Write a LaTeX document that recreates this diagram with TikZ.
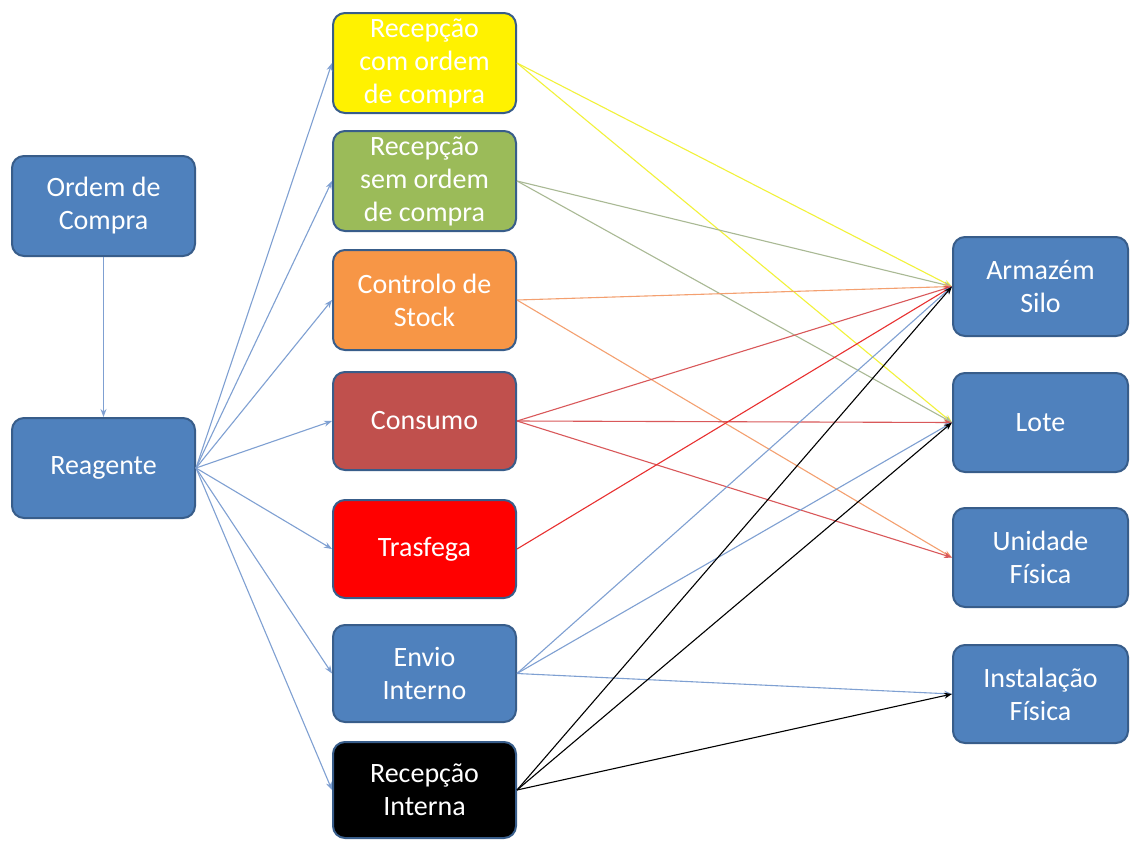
\documentclass[tikz,border=0pt]{standalone}
\usepackage{fontspec}
\setmainfont{Carlito}
\usetikzlibrary{arrows.meta}
\definecolor{boxblue}{HTML}{4F81BD}
\definecolor{boxedge}{HTML}{385D8A}
\definecolor{olive}{HTML}{9BBB59}
\definecolor{orangebox}{HTML}{F79646}
\definecolor{brick}{HTML}{C0504D}
\definecolor{lineblue}{HTML}{7FA0D2}
\definecolor{lineyellow}{HTML}{F2F23A}
\definecolor{linegreen}{HTML}{A9B994}
\definecolor{lineorange}{HTML}{F4A070}
\definecolor{linebrick}{HTML}{D9585A}
\definecolor{linered}{HTML}{E83030}
\tikzset{
  box/.style={draw=boxedge, line width=2pt, rounded corners=12pt, fill=boxblue,
    text=white, align=center, inner sep=0pt, minimum width=183pt,
    minimum height=100pt, font=\fontsize{28}{33}\selectfont},
  rbox/.style={box, minimum width=175pt},
  link/.style={line width=1.1pt, -{Stealth[length=8pt,width=6pt]}},
}
\begin{document}
\begin{tikzpicture}[x=1pt,y=-1pt]
\useasboundingbox (0,0) rectangle (1130,841);
\fill[white] (0,0) rectangle (1130,841);

% left column
\node[box] (ordem) at (103.5,206) {Ordem de\\Compra};
\node[box] (reag) at (103.5,468) {Reagente};

% middle column: the operations
\node[box, fill=yellow] (recom) at (424.5,63) {Recepção\\com ordem\\de compra};
\node[box, fill=olive] (resem) at (424.5,181) {Recepção\\sem ordem\\de compra};
\node[box, fill=orangebox] (ctrl) at (424.5,300) {Controlo de\\Stock};
\node[box, fill=brick, minimum height=98pt] (cons) at (424.5,421) {Consumo};
\node[box, fill=red, minimum height=98pt] (trasf) at (424.5,549) {Trasfega};
\node[box, minimum height=97pt] (envio) at (424.5,673.5) {Envio\\Interno};
\node[box, fill=black, minimum height=96pt] (rint) at (424.5,790) {Recepção\\Interna};

% right column: the targets
\node[rbox, minimum height=99pt] (arm) at (1040.5,286.5) {Armazém\\Silo};
\node[rbox, minimum height=99pt] (lote) at (1040.5,422.5) {Lote};
\node[rbox, minimum height=99pt] (unid) at (1040.5,557.5) {Unidade\\Física};
\node[rbox, minimum height=98pt] (inst) at (1040.5,694) {Instalação\\Física};

% order feeds the reagent
\draw[link, lineblue] (ordem) -- (reag);

% reagent to every operation
\foreach \t in {recom,resem,ctrl,cons,trasf,envio,rint}
  \draw[link, lineblue] (reag.east) -- (\t.west);

% operations to targets
\draw[link, lineyellow] (recom.east) -- (arm.west);
\draw[link, lineyellow] (recom.east) -- (lote.west);
\draw[link, linegreen] (resem.east) -- (arm.west);
\draw[link, linegreen] (resem.east) -- (lote.west);
\draw[link, lineorange] (ctrl.east) -- (arm.west);
\draw[link, lineorange] (ctrl.east) -- (unid.west);
\draw[link, linebrick] (cons.east) -- (arm.west);
\draw[link, linebrick] (cons.east) -- (lote.west);
\draw[link, linebrick] (cons.east) -- (unid.west);
\draw[link, linered] (trasf.east) -- (arm.west);
\draw[link, lineblue] (envio.east) -- (arm.west);
\draw[link, lineblue] (envio.east) -- (lote.west);
\draw[link, lineblue] (envio.east) -- (inst.west);
\draw[link, black] (rint.east) -- (arm.west);
\draw[link, black] (rint.east) -- (lote.west);
\draw[link, black] (rint.east) -- (inst.west);
\end{tikzpicture}
\end{document}
